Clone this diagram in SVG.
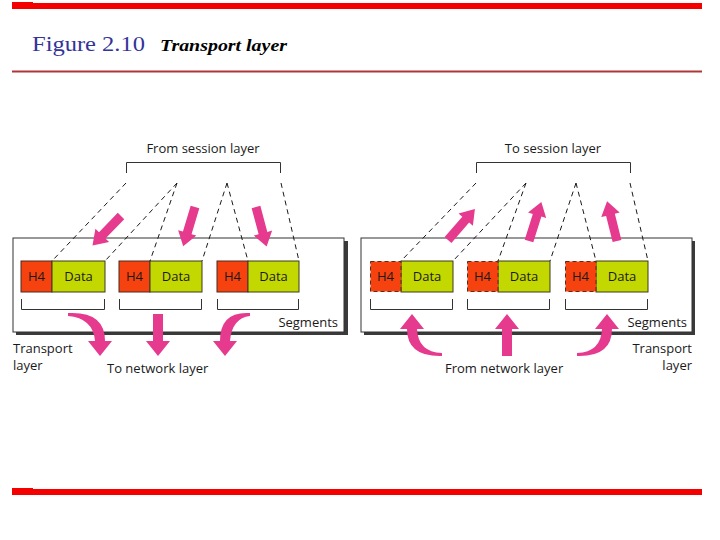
<svg xmlns="http://www.w3.org/2000/svg" width="720" height="540" viewBox="0 0 720 540">
<style>
.t{font-family:"Open Sans","Liberation Sans",sans-serif;font-size:13px;fill:#1a1a1a}
.c{text-anchor:middle}
.r{text-anchor:end}
.h4{fill:#f5420f;stroke:#4a2a20;stroke-width:1}
.h4d{fill:#f5420f;stroke:#5a2a1a;stroke-width:1;stroke-dasharray:4 3}
.dt{fill:#c3d700;stroke:#3a3a20;stroke-width:1}
.box{fill:#fff;stroke:#333;stroke-width:1}
.sh{fill:#3a3a3a}
.br{fill:none;stroke:#333;stroke-width:1}
.dash{fill:none;stroke:#1a1a1a;stroke-width:1;stroke-dasharray:5 4}
.pk{fill:#e53a8e}
</style>
<defs>
<path id="arr" d="M0,-4.5 L27,-4.5 L27,-9.5 L41,0 L27,9.5 L27,4.5 L0,4.5 Z"/>
</defs>
<g id="frame">
<rect x="12" y="3" width="690" height="6" fill="#f40000"/>
<rect x="12" y="2" width="21" height="7" fill="#f40000"/>
<line x1="12" y1="71.5" x2="702" y2="71.5" stroke="#b03535" stroke-width="2"/>
<rect x="12" y="489" width="690" height="6" fill="#f40000"/>
<rect x="12" y="488" width="21" height="7" fill="#f40000"/>
<text x="32" y="51" font-family="'Liberation Serif',serif" font-size="22" fill="#333399" textLength="113" lengthAdjust="spacingAndGlyphs">Figure 2.10</text>
<text x="160" y="51" font-family="'Liberation Serif',serif" font-size="17" font-weight="bold" font-style="italic" fill="#000" textLength="127" lengthAdjust="spacingAndGlyphs">Transport layer</text>
</g>

<g id="left-panel">
<rect class="sh" x="16" y="241" width="332" height="94"/>
<rect class="box" x="13" y="238" width="331" height="94"/>
<text class="t r" x="338" y="327">Segments</text>
</g>
<g id="left-seg1">
<rect class="h4" x="21" y="261" width="31" height="31"/>
<rect class="dt" x="52" y="261" width="53" height="31"/>
<text class="t c" x="36.5" y="281">H4</text>
<text class="t c" x="78.5" y="281">Data</text>
<path class="br" d="M21.5,299 V309.5 H104.5 V299"/>
</g>
<g id="left-seg2">
<rect class="h4" x="119" y="261" width="31" height="31"/>
<rect class="dt" x="150" y="261" width="52" height="31"/>
<text class="t c" x="134.5" y="281">H4</text>
<text class="t c" x="176" y="281">Data</text>
<path class="br" d="M119.5,299 V309.5 H201.5 V299"/>
</g>
<g id="left-seg3">
<rect class="h4" x="217" y="261" width="31" height="31"/>
<rect class="dt" x="248" y="261" width="51" height="31"/>
<text class="t c" x="232.5" y="281">H4</text>
<text class="t c" x="273.5" y="281">Data</text>
<path class="br" d="M217.5,299 V309.5 H298.5 V299"/>
</g>
<g id="from-session">
<path class="br" d="M126.5,173 V162.5 H280.5 V173"/>
<text class="t c" x="203" y="153">From session layer</text>
</g>
<g id="transport-left">
<text class="t" x="13" y="353">Transport</text>
<text class="t" x="13" y="370">layer</text>
</g>
<g id="to-network">
<text class="t" x="107" y="373">To network layer</text>
</g>

<g id="right-panel">
<rect class="sh" x="364" y="241" width="331" height="94"/>
<rect class="box" x="361" y="238" width="331" height="94"/>
<text class="t r" x="687" y="327">Segments</text>
</g>
<g id="right-seg1">
<rect class="dt" x="401" y="261" width="52" height="31"/>
<rect class="h4d" x="370.5" y="261.5" width="30.5" height="30"/>
<text class="t c" x="385.5" y="281">H4</text>
<text class="t c" x="427" y="281">Data</text>
<path class="br" d="M370.5,299 V309.5 H452.5 V299"/>
</g>
<g id="right-seg2">
<rect class="dt" x="498" y="261" width="52" height="31"/>
<rect class="h4d" x="467.5" y="261.5" width="30.5" height="30"/>
<text class="t c" x="482.5" y="281">H4</text>
<text class="t c" x="524" y="281">Data</text>
<path class="br" d="M467.5,299 V309.5 H549.5 V299"/>
</g>
<g id="right-seg3">
<rect class="dt" x="596" y="261" width="52" height="31"/>
<rect class="h4d" x="565.5" y="261.5" width="30.5" height="30"/>
<text class="t c" x="580.5" y="281">H4</text>
<text class="t c" x="622" y="281">Data</text>
<path class="br" d="M565.5,299 V309.5 H647.5 V299"/>
</g>
<g id="to-session">
<path class="br" d="M476.5,173 V162.5 H630.5 V173"/>
<text class="t c" x="553" y="153">To session layer</text>
</g>
<g id="transport-right">
<text class="t r" x="692" y="353">Transport</text>
<text class="t r" x="692" y="370">layer</text>
</g>
<g id="from-network">
<text class="t" x="445" y="373">From network layer</text>
</g>

<g id="connectors">
<path class="dash" d="M126,183 L52,261 M177,183 L105,261 M177,183 L150,261 M227,183 L202,261 M227,183 L248,261 M281,183 L299,261"/>
<path class="dash" d="M476,183 L401,261 M526,183 L453,261 M526,183 L498,261 M576,183 L550,261 M576,183 L596,261 M630,183 L648,261"/>
<use href="#arr" class="pk" transform="translate(121,216) rotate(134)"/>
<use href="#arr" class="pk" transform="translate(195,207) rotate(106.7)"/>
<use href="#arr" class="pk" transform="translate(256,207) rotate(75)"/>
<use href="#arr" class="pk" transform="translate(448,240) rotate(-49)"/>
<use href="#arr" class="pk" transform="translate(529,241) rotate(-72.5)"/>
<use href="#arr" class="pk" transform="translate(617,241) rotate(-104)"/>
<path class="pk" d="M68,313 Q105,311 105,341 L112,341 L100,356 L88,341 L95,341 Q93,318 68,316 Z"/>
<path class="pk" d="M153,314 H163 V341 H170 L158,356 L146,341 H153 Z"/>
<path class="pk" d="M250,313 Q220,311 220,341 L213,341 L225,356 L237,341 L230,341 Q232,318 250,316 Z"/>
<path class="pk" d="M442,356 Q407,357 407,329 L400,329 L412,314 L424,329 L417,329 Q418,352 442,353 Z"/>
<path class="pk" d="M502,356 V329 H495 L507,314 L519,329 H512 V356 Z"/>
<path class="pk" d="M577,356 Q612,357 612,329 L619,329 L607,314 L595,329 L602,329 Q601,352 577,353 Z"/>
</g>
</svg>
